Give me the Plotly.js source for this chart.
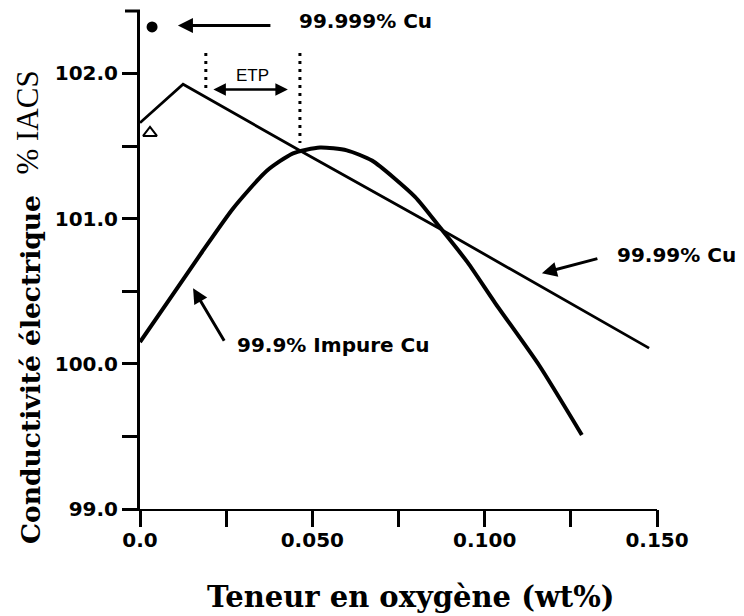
<!DOCTYPE html>
<html>
<head>
<meta charset="utf-8">
<script src="https://cdn.plot.ly/plotly-3.0.1.min.js"></script>
<style>html,body{margin:0;padding:0;background:#fff;}#chart{width:744px;height:616px;}</style>
</head>
<body>
<div id="chart"></div>
<script>
// Data
const cu9999X = [0, 0.0125, 0.047, 0.087, 0.1477];
const cu9999Y = [101.66, 101.925, 101.46, 100.93, 100.108];

const impureX = [0, 0.009, 0.018, 0.027, 0.0368, 0.0444, 0.0522, 0.060, 0.0673, 0.0798, 0.087, 0.095, 0.103, 0.1158, 0.1282];
const impureY = [100.15, 100.46, 100.77, 101.07, 101.33, 101.45, 101.49, 101.47, 101.40, 101.15, 100.94, 100.70, 100.42, 99.99, 99.51];

const pureDotX = [0.0035];
const pureDotY = [102.32];
const triangleX = [0.0029];
const triangleY = [101.59];

const xTickVals = [0, 0.025, 0.05, 0.075, 0.1, 0.125, 0.15];
const xTickText = ["0.0", "", "0.050", "", "0.100", "", "0.150"];
const yTickVals = [99, 99.5, 100, 100.5, 101, 101.5, 102];
const yTickText = ["99.0", "", "100.0", "", "101.0", "", "102.0"];

const labelFont = {family: "DejaVu Sans", size: 20, color: "#000", weight: "bold"};

const traces = [
  {x: cu9999X, y: cu9999Y, mode: "lines", line: {color: "#000", width: 2.8}, hoverinfo: "skip"},
  {x: impureX, y: impureY, mode: "lines", line: {color: "#000", width: 4, shape: "spline", smoothing: 0.6}, hoverinfo: "skip"},
  {x: pureDotX, y: pureDotY, mode: "markers", marker: {symbol: "circle", size: 11, color: "#000"}, hoverinfo: "skip"},
  {x: triangleX, y: triangleY, mode: "markers", marker: {symbol: "triangle-up-open", size: 12, color: "#000", line: {width: 2, color: "#000"}}, hoverinfo: "skip"},
  // invisible trace on the overlay axis carrying the long tick marks
  {x: [cu9999X[0]], y: [cu9999Y[0]], xaxis: "x2", mode: "markers", marker: {opacity: 0}, hoverinfo: "skip"}
];

const arrowBase = {showarrow: true, text: "", arrowhead: 2, arrowsize: 1, arrowwidth: 3, arrowcolor: "#000", axref: "pixel", ayref: "pixel"};

const layout = {
  width: 744, height: 616,
  margin: {l: 140, r: 87, t: 11, b: 107, pad: 0},
  paper_bgcolor: "#fff", plot_bgcolor: "#fff",
  showlegend: false,
  xaxis: {
    range: [0, 0.15], showgrid: false, zeroline: false,
    showline: true, linecolor: "#000", linewidth: 2,
    tickmode: "array", tickvals: xTickVals, ticktext: xTickText,
    ticks: "outside", ticklen: 12, tickwidth: 3, tickcolor: "#000",
    tickfont: labelFont
  },
  xaxis2: {
    overlaying: "x", matches: "x", side: "bottom", anchor: "y",
    range: [0, 0.15], showgrid: false, zeroline: false, showline: false,
    tickmode: "array", tickvals: xTickVals,
    ticks: "outside", ticklen: 17, tickwidth: 3, tickcolor: "#000",
    showticklabels: false
  },
  yaxis: {
    range: [99, 102.43], showgrid: false, zeroline: false,
    showline: true, linecolor: "#000", linewidth: 3,
    tickmode: "array", tickvals: yTickVals, ticktext: yTickText,
    ticks: "outside", ticklen: 15, tickwidth: 3, tickcolor: "#000",
    tickfont: labelFont
  },
  shapes: [
    {type: "line", xref: "paper", yref: "paper", x0: -15/517, x1: 0, y0: 1, y1: 1, line: {color: "#000", width: 3}},
    {type: "line", xref: "x", yref: "y", x0: 0.0191, x1: 0.0191, y0: 102.14, y1: 101.89, line: {color: "#000", width: 3, dash: "3px,5px"}},
    {type: "line", xref: "x", yref: "y", x0: 0.0464, x1: 0.0464, y0: 102.14, y1: 101.52, line: {color: "#000", width: 3, dash: "3px,5px"}}
  ],
  annotations: [
    Object.assign({}, arrowBase, {x: 0.011, y: 102.33, ax: 94, ay: 0}),
    Object.assign({}, arrowBase, {x: 0.0429, y: 101.89, ax: -76, ay: 0, arrowside: "end+start", startarrowhead: 2, startarrowsize: 1, arrowwidth: 2.5}),
    Object.assign({}, arrowBase, {x: 0.1166, y: 100.624, ax: 57, ay: -15}),
    Object.assign({}, arrowBase, {x: 0.0154, y: 100.52, ax: 32, ay: 54}),
    {x: 0.04555, y: 102.36, xref: "x", yref: "y", text: "99.999% Cu", showarrow: false, xanchor: "left", yanchor: "middle", font: labelFont},
    {x: 0.1378, y: 100.748, xref: "x", yref: "y", text: "99.99% Cu", showarrow: false, xanchor: "left", yanchor: "middle", font: labelFont},
    {x: 0.02756, y: 100.129, xref: "x", yref: "y", text: "99.9% Impure Cu", showarrow: false, xanchor: "left", yanchor: "middle", font: labelFont},
    {x: 0.03264, y: 101.987, xref: "x", yref: "y", text: "ETP", showarrow: false, xanchor: "center", yanchor: "middle", font: {family: "Liberation Sans", size: 17, color: "#000"}},
    {x: -0.2128, y: 0.2811, xref: "paper", yref: "paper", text: "<b>Conductivité électrique</b>", textangle: -90, showarrow: false, xanchor: "center", yanchor: "middle", font: {family: "DejaVu Serif", size: 26.5, color: "#000"}},
    {x: -0.2176, y: 0.775, xref: "paper", yref: "paper", text: "% IACS", textangle: -90, showarrow: false, xanchor: "center", yanchor: "middle", font: {family: "Liberation Serif", size: 31, color: "#000"}},
    {x: 0.524, y: -0.1767, xref: "paper", yref: "paper", text: "<b>Teneur en oxygène (wt%)</b>", showarrow: false, xanchor: "center", yanchor: "middle", font: {family: "DejaVu Serif", size: 29, color: "#000"}}
  ]
};

Plotly.newPlot("chart", traces, layout, {staticPlot: true, displayModeBar: false});
</script>
</body>
</html>
